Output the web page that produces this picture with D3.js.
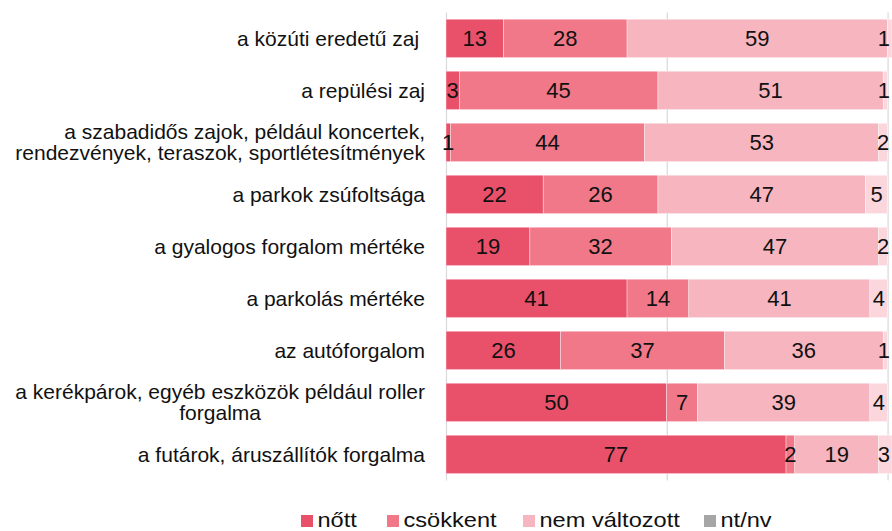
<!DOCTYPE html>
<html><head><meta charset="utf-8">
<script src="https://cdn.jsdelivr.net/npm/d3@7"></script>
<style>body{margin:0;background:#fff}svg{display:block}text{font-family:"Liberation Sans",Arial,sans-serif;white-space:pre}</style>
</head><body>
<svg id="c" width="892" height="531"></svg>
<script>
const categories = [
  ["a közúti eredetű zaj "],
  ["a repülési zaj"],
  ["a szabadidős zajok, például koncertek,", "rendezvények, teraszok, sportlétesítmények"],
  ["a parkok zsúfoltsága"],
  ["a gyalogos forgalom mértéke"],
  ["a parkolás mértéke"],
  ["az autóforgalom"],
  ["a kerékpárok, egyéb eszközök például roller", "forgalma"],
  ["a futárok, áruszállítók forgalma"]
];
const seriesNames = ["nőtt", "csökkent", "nem változott", "nt/nv"];
const nott          = [13, 3, 1, 22, 19, 41, 26, 50, 77];
const csokkent      = [28, 45, 44, 26, 32, 14, 37, 7, 2];
const nemValtozott  = [59, 51, 53, 47, 47, 41, 36, 39, 19];
const ntnv          = [1, 1, 2, 5, 2, 4, 1, 4, 3];
const gridTicks = [0, 50, 100];

const barColors = ["#e9506a", "#f07888", "#f7b5bf", "#fbd7dd"];
const legendColors = ["#e9506a", "#f07888", "#f7b5bf", "#a6a6a6"];

const W = 892;
const svg = d3.select("#c");
const rows = categories.map((c, i) => ({id: i, label: c, s0: nott[i], s1: csokkent[i], s2: nemValtozott[i], s3: ntnv[i]}));
const stack = d3.stack().keys(["s0", "s1", "s2", "s3"])(rows);

const x = d3.scaleLinear().domain([0, 101]).range([446, W]);
const y = d3.scaleBand().domain(rows.map(r => r.id)).range([12.4, 480.4]).paddingInner(0.26).paddingOuter(0.13);

// gridlines
svg.append("g").selectAll("line").data(gridTicks).join("line")
  .attr("x1", d => x(d) + 0.5).attr("x2", d => x(d) + 0.5)
  .attr("y1", y.range()[0]).attr("y2", y.range()[1])
  .attr("stroke", "#d9d9d9").attr("stroke-width", 1.2);

// bars
const layers = svg.append("g").selectAll("g").data(stack).join("g")
  .attr("fill", (d, i) => barColors[i]);
layers.selectAll("rect").data(d => d).join("rect")
  .attr("x", d => x(d[0]))
  .attr("width", d => x(d[1]) - x(d[0]))
  .attr("y", (d, i) => y(i))
  .attr("height", y.bandwidth())
  .attr("stroke", "#fff").attr("stroke-width", 0.4);

// value labels
const lab = svg.append("g").attr("font-size", 22).attr("fill", "#111").attr("text-anchor", "middle");
stack.forEach(layer => {
  layer.forEach((d, i) => {
    const v = d[1] - d[0];
    const t = lab.append("text")
      .attr("x", (x(d[0]) + x(d[1])) / 2)
      .attr("y", y(i) + y.bandwidth() / 2)
      .attr("dy", "0.36em")
      .text(v);
    const half = t.node().getComputedTextLength() / 2;
    const cx = +t.attr("x");
    if (cx + half > W - 2) t.attr("x", W - 2 - half);
  });
});

// category labels
const cat = svg.append("g").attr("font-size", 21).attr("fill", "#111");
const lh = 21;
rows.forEach((r, i) => {
  const cy = y(i) + y.bandwidth() / 2;
  const n = r.label.length;
  const first = cat.append("text")
    .attr("text-anchor", "end")
    .attr("x", 425)
    .attr("y", cy - (n - 1) / 2 * lh)
    .attr("dy", "0.35em")
    .text(r.label[0]);
  if (n > 1) {
    const bb = first.node().getBBox();
    const centered = r.label[1].length < r.label[0].length * 0.5;
    cat.append("text")
      .attr("text-anchor", centered ? "middle" : "end")
      .attr("x", centered ? bb.x + bb.width / 2 : 425)
      .attr("y", cy + (n - 1) / 2 * lh)
      .attr("dy", "0.35em")
      .text(r.label[1]);
  }
});

// legend
const legendX = [301, 387, 523, 704];
const lg = svg.append("g").attr("fill", "#111");
seriesNames.forEach((name, i) => {
  lg.append("rect").attr("x", legendX[i]).attr("y", 515).attr("width", 12).attr("height", 12).attr("fill", legendColors[i]);
  lg.append("text").attr("font-size", 20)
    .attr("transform", `translate(${legendX[i] + 16.5},526.5) scale(1.18,1)`)
    .text(name);
});
</script>
</body></html>
